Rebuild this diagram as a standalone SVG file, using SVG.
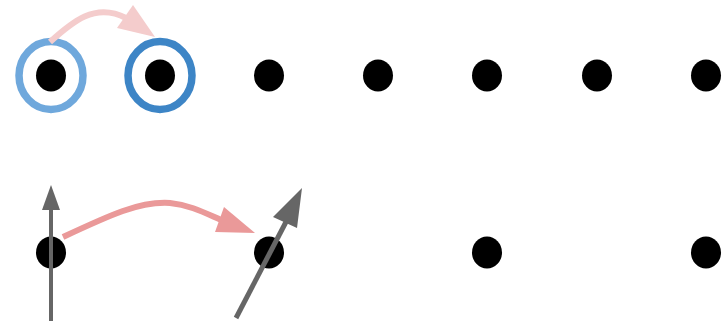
<svg xmlns="http://www.w3.org/2000/svg" width="724" height="324" viewBox="0 0 724 324">
<style>
.dot{fill:#000}
.ring{fill:none;stroke-width:7.5}
.pink1{fill:none;stroke:#f4cccc;stroke-width:6}
.pink2{fill:none;stroke:#ea9999;stroke-width:6}
.gray{fill:none;stroke:#666666;stroke-width:4}
</style>
<rect width="724" height="324" fill="#fff"/>
<g id="n1"><ellipse class="ring" cx="51" cy="75.5" rx="32" ry="34" stroke="#6fa8dc"/><ellipse class="dot" cx="51" cy="75.5" rx="15" ry="16"/></g>
<g id="n2"><ellipse class="ring" cx="160" cy="75.5" rx="32" ry="34" stroke="#3d85c6"/><ellipse class="dot" cx="160" cy="75.5" rx="15" ry="16"/></g>
<g id="n3"><ellipse class="dot" cx="269" cy="75.5" rx="15" ry="16"/></g>
<g id="n4"><ellipse class="dot" cx="378" cy="75.5" rx="15" ry="16"/></g>
<g id="n5"><ellipse class="dot" cx="487" cy="75.5" rx="15" ry="16"/></g>
<g id="n6"><ellipse class="dot" cx="597" cy="75.5" rx="15" ry="16"/></g>
<g id="n7"><ellipse class="dot" cx="706" cy="75.5" rx="15" ry="16"/></g>
<g id="n8"><ellipse class="dot" cx="51" cy="252.5" rx="15" ry="16"/></g>
<g id="n9"><ellipse class="dot" cx="269" cy="252.5" rx="15" ry="16"/></g>
<g id="n10"><ellipse class="dot" cx="487" cy="252.5" rx="15" ry="16"/></g>
<g id="n11"><ellipse class="dot" cx="706" cy="252.5" rx="15" ry="16"/></g>
<g id="connectors">
<path class="pink1" d="M50,42 C72,22 95,2 126,18"/>
<polygon points="155,37 117,28 133,5" fill="#f4cccc"/>
<path class="pink2" d="M63,237 C110,215 140,201 170,203 C190,205 205,213 221,220"/>
<polygon points="255,233 215,232 224,207" fill="#ea9999"/>
<line class="gray" x1="51" y1="321" x2="51" y2="206"/>
<polygon points="51,185 42,210 60,210" fill="#666666"/>
<line class="gray" x1="236" y1="318" x2="287" y2="220" style="stroke-width:5"/>
<polygon points="302,188 273,217 297,228" fill="#666666"/>
</g>
</svg>
